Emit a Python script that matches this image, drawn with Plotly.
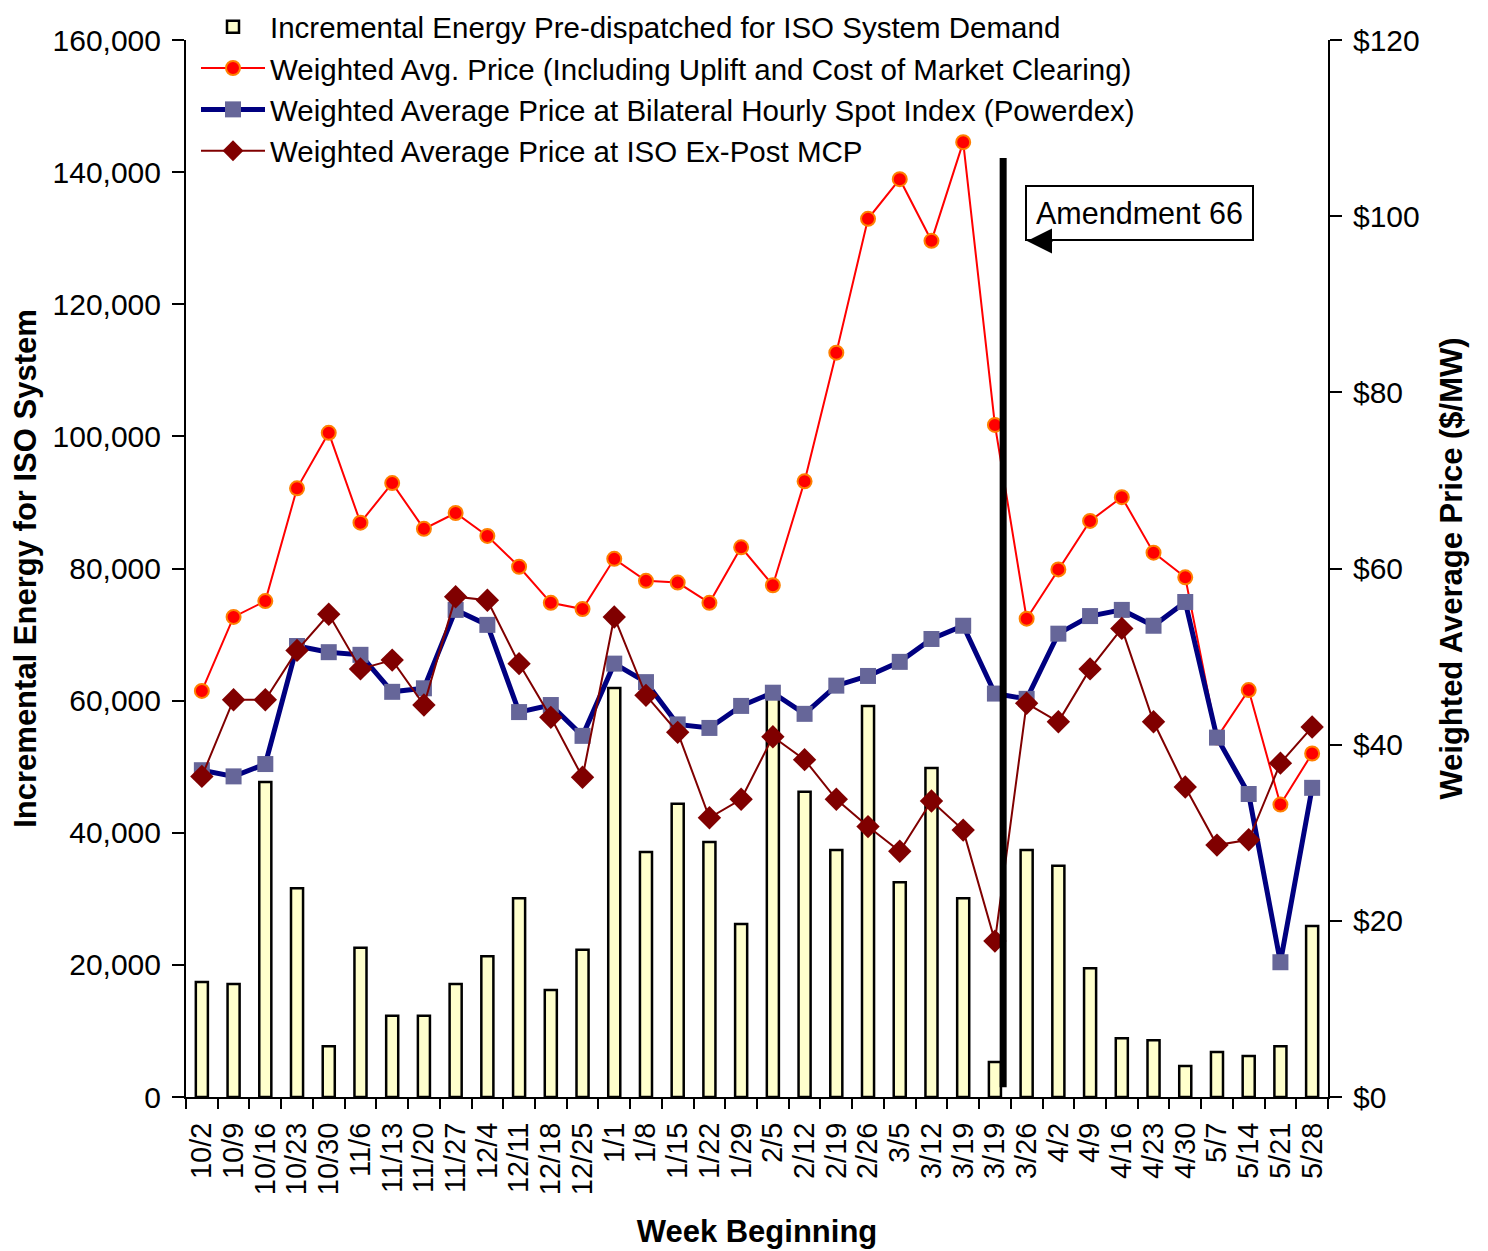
import plotly.graph_objects as go

weeks = ["10/2", "10/9", "10/16", "10/23", "10/30", "11/6", "11/13", "11/20", "11/27",
         "12/4", "12/11", "12/18", "12/25", "1/1", "1/8", "1/15", "1/22", "1/29",
         "2/5", "2/12", "2/19", "2/26", "3/5", "3/12", "3/19", "3/19", "3/26",
         "4/2", "4/9", "4/16", "4/23", "4/30", "5/7", "5/14", "5/21", "5/28"]

energy = [17400, 17100, 47700, 31600, 7700, 22600, 12300, 12300, 17100,
          21300, 30100, 16200, 22300, 61900, 37100, 44400, 38600, 26200,
          61000, 46200, 37400, 59200, 32500, 49800, 30100, 5300, 37400,
          35000, 19500, 8900, 8600, 4700, 6800, 6200, 7700, 25900]

price_uplift = [46.1, 54.5, 56.3, 69.1, 75.4, 65.2, 69.7, 64.5, 66.3,
                63.7, 60.2, 56.1, 55.4, 61.1, 58.6, 58.4, 56.1, 62.4,
                58.1, 69.9, 84.5, 99.7, 104.2, 97.2, 108.4, 76.3, 54.3,
                59.9, 65.4, 68.1, 61.8, 59.0, 40.8, 46.2, 33.2, 39.0]

price_powerdex = [37.1, 36.4, 37.8, 51.2, 50.5, 50.2, 46.0, 46.4, 55.3,
                  53.6, 43.7, 44.5, 41.0, 49.2, 47.1, 42.3, 41.9, 44.4,
                  45.9, 43.5, 46.7, 47.8, 49.4, 52.0, 53.5, 45.8, 45.2,
                  52.6, 54.6, 55.3, 53.5, 56.2, 40.8, 34.4, 15.3, 35.1]

price_mcp = [36.4, 45.1, 45.1, 50.7, 54.8, 48.6, 49.6, 44.5, 56.8,
             56.4, 49.2, 43.1, 36.3, 54.5, 45.6, 41.4, 31.7, 33.8,
             40.9, 38.3, 33.8, 30.7, 27.9, 33.6, 30.3, 17.7, 44.7,
             42.6, 48.6, 53.2, 42.6, 35.2, 28.6, 29.2, 37.9, 42.0]

energy_ticks = [0, 20000, 40000, 60000, 80000, 100000, 120000, 140000, 160000]
price_ticks = [0, 20, 40, 60, 80, 100, 120]
price_ticktext = ["$" + str(v) for v in price_ticks]

amendment_pos = 25.26      # between the two 3/19 weeks
amendment_span = [1.1, 106.6]

xs = list(range(len(weeks)))
FONT = "Liberation Sans, Arial, sans-serif"

# page offset from default body margin
OFF = 8
W, H = 1488 - OFF, 1251 - OFF
# plot-area in page pixels: x 186..1328, y 40..1097
L, T = 186 - OFF, 40 - OFF
R = W - (1328 - OFF)
B = H - (1097 - OFF)
PW, PH = W - L - R, H - T - B


def px_x(p):
    return (p - OFF - L) / PW


def px_y(p):
    return (H - B - (p - OFF)) / PH


fig = go.Figure()
fig.add_trace(go.Bar(
    x=xs, y=energy, width=0.38, name="Incremental Energy Pre-dispatched for ISO System Demand",
    marker=dict(color="#FFFFCC", line=dict(color="black", width=2.5))))
fig.add_trace(go.Scatter(
    x=xs, y=price_uplift, yaxis="y2", mode="lines+markers",
    name="Weighted Avg. Price (Including Uplift and Cost of Market Clearing)",
    line=dict(color="#FF0000", width=2),
    marker=dict(symbol="circle", size=14, color="#FF0000", line=dict(color="#FF8000", width=2))))
fig.add_trace(go.Scatter(
    x=xs, y=price_powerdex, yaxis="y2", mode="lines+markers",
    name="Weighted Average Price at Bilateral Hourly Spot Index (Powerdex)",
    line=dict(color="#000080", width=5),
    marker=dict(symbol="square", size=16, color="#666699")))
fig.add_trace(go.Scatter(
    x=xs, y=price_mcp, yaxis="y2", mode="lines+markers",
    name="Weighted Average Price at ISO Ex-Post MCP",
    line=dict(color="#800000", width=2),
    marker=dict(symbol="diamond", size=18, color="#800000")))

fig.add_shape(type="line", xref="x", yref="y2", x0=amendment_pos, x1=amendment_pos,
              y0=amendment_span[0], y1=amendment_span[1], line=dict(color="black", width=7),
              layer="above")

fig.add_annotation(xref="paper", yref="paper", x=px_x(1139), y=px_y(213), text="Amendment 66",
                   xanchor="center", yanchor="middle",
                   showarrow=False, font=dict(family=FONT, size=30.5, color="black"),
                   bordercolor="black", borderwidth=2, borderpad=9, bgcolor="white")
fig.add_annotation(xref="paper", yref="paper", x=px_x(1027), y=px_y(241),
                   ax=27, ay=0, text="", showarrow=True, arrowhead=2, arrowsize=2.5,
                   arrowwidth=2, arrowcolor="black", standoff=0)

fig.update_layout(
    width=W, height=H,
    margin=dict(l=L, r=R, t=T, b=B, autoexpand=False),
    paper_bgcolor="white", plot_bgcolor="white",
    font=dict(family=FONT, size=29, color="black"),
    showlegend=True,
    legend=dict(x=px_x(196), y=px_y(1), xanchor="left", yanchor="top", bgcolor="rgba(0,0,0,0)",
                font=dict(family=FONT, size=29.5), itemwidth=64, traceorder="normal"),
    xaxis=dict(range=[-0.5, len(weeks) - 0.5], tickmode="array", tickvals=xs, ticktext=weeks,
               ticks="", tickangle=-90, showline=True, linecolor="black", linewidth=2,
               showgrid=False, zeroline=False, tickfont=dict(size=29), automargin=False,
               ticklabelstandoff=12,
               minor=dict(tickmode="array", tickvals=[i - 0.5 for i in range(len(weeks) + 1)],
                          ticks="outside", ticklen=10, tickwidth=2, tickcolor="black"),
               title=dict(text="Week Beginning", font=dict(size=31, weight="bold"), standoff=26)),
    yaxis=dict(range=[0, 160000], tickmode="array", tickvals=energy_ticks, tickformat=",",
               ticks="outside", ticklen=12, tickwidth=2, tickcolor="black", automargin=False,
               showline=True, linecolor="black", linewidth=2, showgrid=False, zeroline=False,
               tickfont=dict(size=30), ticklabelstandoff=5,
               title=dict(text="Incremental Energy for ISO System", font=dict(size=31, weight="bold"),
                          standoff=16)),
    yaxis2=dict(range=[0, 120], overlaying="y", side="right", tickmode="array", tickvals=price_ticks,
                ticktext=price_ticktext, ticks="outside", ticklen=12, tickwidth=2, tickcolor="black",
                showline=True, linecolor="black", linewidth=2, showgrid=False, zeroline=False,
                tickfont=dict(size=30), automargin=False, ticklabelstandoff=5,
                title=dict(text="Weighted Average Price ($/MW)", font=dict(size=31, weight="bold"),
                           standoff=22)),
)

fig.write_html("out.html")
